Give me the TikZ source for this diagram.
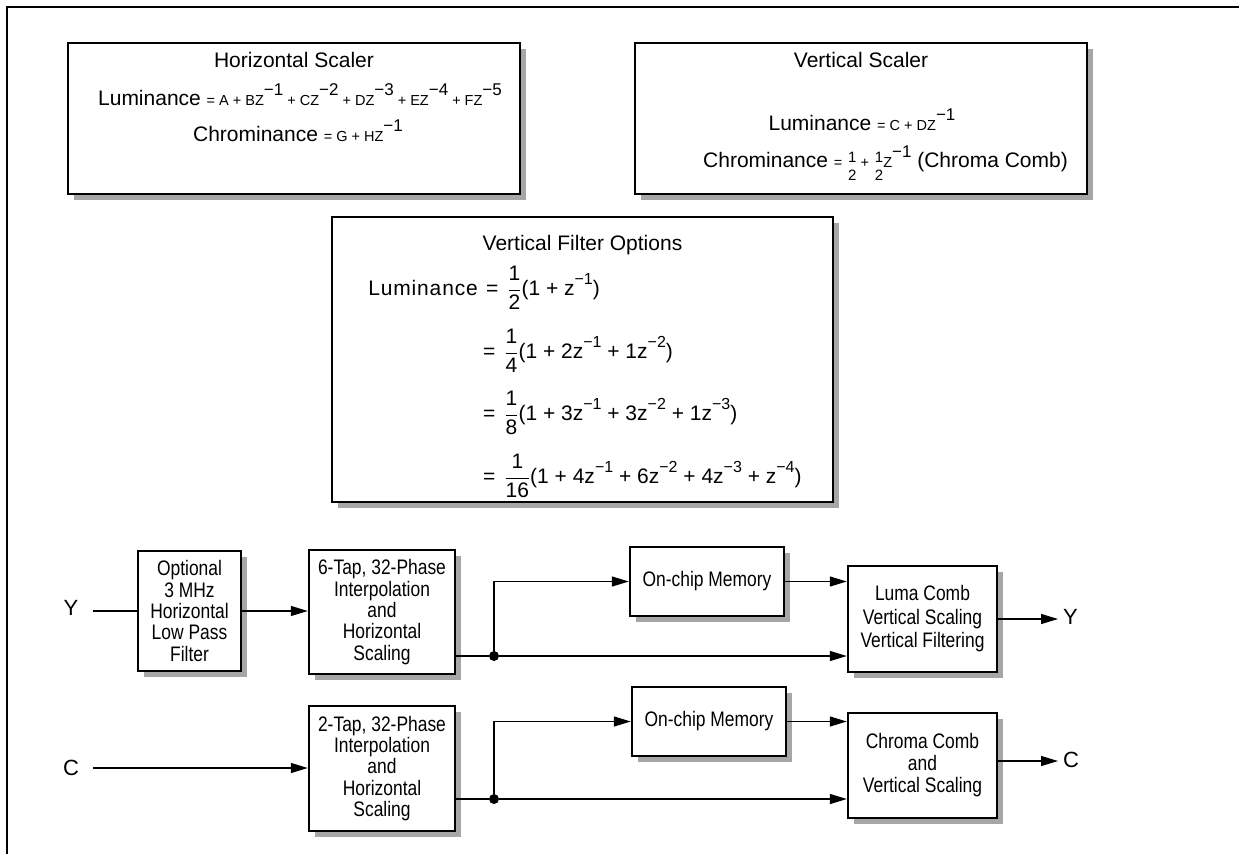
\documentclass[tikz,border=0pt]{standalone}
\usepackage{fontspec}
\usepackage{amsmath}
\setmainfont{Liberation Sans}
\newfontfamily\narrowfont{Liberation Sans}[FakeStretch=0.83]
\usetikzlibrary{arrows.meta,shadows}

% text sizes used in the formula boxes
\newcommand\bigt{\fontsize{21}{24}\selectfont}
\newcommand\smt{\fontsize{14.5}{15}\selectfont}
% raised exponent  "-n"
\newcommand\ex[1]{\raisebox{9.5pt}{\fontsize{17}{17}\selectfont\char"2212\relax#1}}
\newcommand\vex[1]{\raisebox{10.5pt}{\fontsize{16}{16}\selectfont\char"2212\relax#1}}
% display fraction with a thin bar
\newcommand\vf[2]{$\genfrac{}{}{0.6pt}{0}{\hbox{#1}}{\hbox{#2}}$}
% small stacked one-half
\newcommand\half{\raisebox{-13pt}{\fontsize{15}{15}\selectfont\shortstack{1\\[4pt]2}}}

\tikzset{
  box/.style={draw, line width=2.4pt, fill=white, inner sep=0pt,
    drop shadow={shadow xshift=5.5pt, shadow yshift=-5.5pt, opacity=1, fill=black!35}},
  blk/.style={box, align=center, font=\narrowfont\fontsize{21}{21.3}\selectfont},
  txt/.style={inner sep=0pt, font=\bigt},
  lbl/.style={inner sep=0pt, font=\fontsize{22}{24}\selectfont},
  wire/.style={line width=1.3pt},
  arr/.style={wire, -{Triangle[length=17pt,width=10pt]}},
  dot/.style={circle, fill, inner sep=0pt, minimum size=10pt},
}

\begin{document}
\begin{tikzpicture}[x=1pt, y=-1pt]
\useasboundingbox (0,0) rectangle (1239,854);

% page frame
\draw[line width=2pt] (7,854) -- (7,7) -- (1239,7);

% ---- formula boxes ----
\node[box, minimum width=452pt, minimum height=151pt] (hs) at (294,118.5) {};
\node[txt, anchor=base] (hst) at (294,67) {Horizontal Scaler};
\node[txt, anchor=base] (hsl) at (300,105)
  {Luminance {\smt = A + BZ}\ex{1}{\smt{} + CZ}\ex{2}{\smt{} + DZ}\ex{3}{\smt{} + EZ}\ex{4}{\smt{} + FZ}\ex{5}};
\node[txt, anchor=base] (hsc) at (298,141) {Chrominance {\smt = G + HZ}\ex{1}};

\node[box, minimum width=452pt, minimum height=151pt] (vs) at (861,118.5) {};
\node[txt, anchor=base] (vst) at (861,67) {Vertical Scaler};
\node[txt, anchor=base] (vsl) at (862,130) {Luminance {\smt = C + DZ}\ex{1}};
\node[txt, anchor=base west] (vsc) at (703,167)
  {Chrominance {\smt =} \half{\smt{} +} \half{\smt Z}\ex{1} (Chroma Comb)};

\node[box, minimum width=501pt, minimum height=285pt] (vfo) at (582.5,359.5) {};
\node[txt, anchor=base] (vfot) at (582.5,250) {Vertical Filter Options};
\node[txt, anchor=base east] (vfol) at (478,295) {\addfontfeature{LetterSpace=4}Luminance};
\node[txt, anchor=base west] (vf1) at (486,295) {=\hspace{9pt}\vf{1}{2}(1 + z\vex{1})};
\node[txt, anchor=base west] (vf2) at (483,358) {=\hspace{9pt}\vf{1}{4}(1 + 2z\vex{1} + 1z\vex{2})};
\node[txt, anchor=base west] (vf3) at (483,420) {=\hspace{9pt}\vf{1}{8}(1 + 3z\vex{1} + 3z\vex{2} + 1z\vex{3})};
\node[txt, anchor=base west] (vf4) at (483,483) {=\hspace{9pt}\vf{1}{16}(1 + 4z\vex{1} + 6z\vex{2} + 4z\vex{3} + z\vex{4})};

% ---- processing blocks ----
\node[blk, minimum width=103pt, minimum height=120pt] (opt) at (189.5,611)
  {Optional\\3 MHz\\Horizontal\\Low Pass\\Filter};
\node[blk, minimum width=146pt, minimum height=124pt] (ht6) at (382,612)
  {6-Tap, 32-Phase\\Interpolation\\and\\Horizontal\\Scaling};
\node[blk, minimum width=146pt, minimum height=125pt] (ht2) at (382,768.5)
  {2-Tap, 32-Phase\\Interpolation\\and\\Horizontal\\Scaling};
\node[blk, minimum width=154pt, minimum height=69pt] (mem1) at (707,581.5) {On-chip Memory};
\node[blk, minimum width=154pt, minimum height=69pt] (mem2) at (709,721.5) {On-chip Memory};
\node[blk, minimum width=149pt, minimum height=106pt, font=\narrowfont\fontsize{21}{23.5}\selectfont] (luma) at (922.5,619)
  {Luma Comb\\Vertical Scaling\\Vertical Filtering};
\node[blk, minimum width=149pt, minimum height=105pt, font=\narrowfont\fontsize{21}{22}\selectfont] (chroma) at (922.5,765.5)
  {Chroma Comb\\and\\Vertical Scaling};

% ---- signal labels and junctions ----
\node[lbl] (yl) at (71,608) {Y};
\node[lbl] (cl) at (71,768) {C};
\node[lbl, anchor=west] (ylo) at (1063,617) {Y};
\node[lbl, anchor=west] (clo) at (1063,760) {C};
\coordinate (yin) at (93,611);
\coordinate (cin) at (93,768);
\coordinate (yout) at (1058,619);
\coordinate (cout) at (1058,761);
\node[dot] (d1) at (494,656) {};
\node[dot] (d2) at (494,799) {};

% ---- luma path ----
\draw[wire] (yin) -- (opt.west);
\draw[arr] (opt.east) -- (opt.east -| ht6.west);
\draw[wire] (ht6.east |- d1) -- (d1);
\draw[arr] (d1) -- (d1 -| luma.west);
\draw[arr] (d1) |- (mem1.west);
\draw[arr] (mem1.east) -- (mem1.east -| luma.west);
\draw[arr] (luma.east |- yout) -- (yout);

% ---- chroma path ----
\draw[arr] (cin) -- (cin -| ht2.west);
\draw[wire] (ht2.east |- d2) -- (d2);
\draw[arr] (d2) -- (d2 -| chroma.west);
\draw[arr] (d2) |- (mem2.west);
\draw[arr] (mem2.east) -- (mem2.east -| chroma.west);
\draw[arr] (chroma.east |- cout) -- (cout);
\end{tikzpicture}
\end{document}
